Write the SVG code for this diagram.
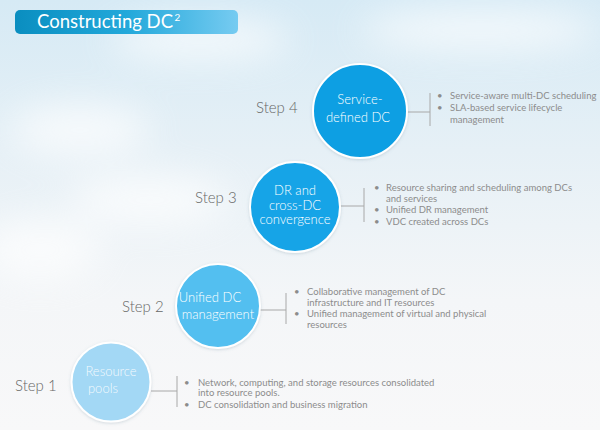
<svg xmlns="http://www.w3.org/2000/svg" width="600" height="430" viewBox="0 0 600 430">
<defs>
<linearGradient id="sky" x1="0" y1="0" x2="0" y2="1">
<stop offset="0" stop-color="#d6eaf5"/>
<stop offset="0.35" stop-color="#e6f0f6"/>
<stop offset="0.7" stop-color="#f4f6f8"/>
<stop offset="1" stop-color="#f8f8f9"/>
</linearGradient>
<linearGradient id="bar" x1="0" y1="0" x2="1" y2="0">
<stop offset="0" stop-color="#0a8ec0"/>
<stop offset="0.5" stop-color="#22a8da"/>
<stop offset="1" stop-color="#76cbf1"/>
</linearGradient>
<filter id="blur" x="-50%" y="-50%" width="200%" height="200%">
<feGaussianBlur stdDeviation="18"/>
</filter>
<filter id="shadow" x="-20%" y="-20%" width="140%" height="140%">
<feDropShadow dx="0" dy="1" stdDeviation="1.5" flood-color="#5a7a90" flood-opacity="0.25"/>
</filter>
<style>
.step{font-family:Lato,"Liberation Sans",sans-serif;font-weight:300;font-size:15px;fill:#666}
.ctext{font-family:Lato,"Liberation Sans",sans-serif;font-weight:300;font-size:13px;fill:#fff;text-anchor:middle}
.bul{font-family:Lato,"Liberation Sans",sans-serif;font-weight:400;font-size:9.5px;fill:#8c8c8c}
.node circle{stroke:#fff;stroke-width:2;filter:url(#shadow)}
.conn line{stroke:#a8a8a8;stroke-width:1}
</style>
</defs>
<rect width="600" height="430" fill="url(#sky)"/>
<g filter="url(#blur)" fill="#ffffff" opacity="0.7">
<ellipse cx="80" cy="130" rx="70" ry="25"/>
<ellipse cx="40" cy="250" rx="60" ry="30"/>
<ellipse cx="200" cy="40" rx="90" ry="20"/>
<ellipse cx="480" cy="30" rx="120" ry="20"/>
<ellipse cx="150" cy="200" rx="80" ry="25"/>
</g>
<g id="title">
<rect x="15" y="10" width="223" height="24" rx="5" fill="url(#bar)"/>
<text x="37" y="28" font-family="Lato,'Liberation Sans',sans-serif" font-size="18.5" fill="#fff">Constructing DC<tspan font-size="10" dx="1.5" dy="-7">2</tspan></text>
</g>
<g id="connectors" class="conn">
<line x1="407" y1="112" x2="430" y2="112"/>
<line x1="430" y1="93" x2="430" y2="126"/>
<line x1="340" y1="206" x2="364" y2="206"/>
<line x1="364" y1="188" x2="364" y2="222"/>
<line x1="260" y1="310" x2="286" y2="310"/>
<line x1="286" y1="293" x2="286" y2="324"/>
<line x1="151" y1="391" x2="177" y2="391"/>
<line x1="177" y1="376" x2="177" y2="407"/>
</g>
<g id="step4" class="node">
<text class="step" x="256" y="113">Step 4</text>
<circle cx="360" cy="111" r="47" fill="#0c9fe3"/>
<text class="ctext"><tspan x="360" y="104">Service-</tspan><tspan x="358" y="122">defined DC</tspan></text>
<text class="bul" x="437" y="99">•</text>
<text class="bul" x="450" y="99">Service-aware multi-DC scheduling</text>
<text class="bul" x="437" y="111">•</text>
<text class="bul" x="450" y="111">SLA-based service lifecycle</text>
<text class="bul" x="450" y="123">management</text>
</g>
<g id="step3" class="node">
<text class="step" x="195" y="203">Step 3</text>
<circle cx="295" cy="207" r="45" fill="#16a4e7"/>
<text class="ctext" font-size="12"><tspan x="295" y="195">DR and</tspan><tspan x="295" y="209.5">cross-DC</tspan><tspan x="295" y="224">convergence</tspan></text>
<text class="bul" x="374" y="191">•</text>
<text class="bul" x="386" y="191">Resource sharing and scheduling among DCs</text>
<text class="bul" x="386" y="202">and services</text>
<text class="bul" x="374" y="213">•</text>
<text class="bul" x="386" y="213">Unified DR management</text>
<text class="bul" x="374" y="225">•</text>
<text class="bul" x="386" y="225">VDC created across DCs</text>
</g>
<g id="step2" class="node">
<text class="step" x="122" y="312">Step 2</text>
<circle cx="218" cy="306" r="42" fill="#52bff0"/>
<text class="ctext"><tspan x="210" y="302">Unified DC</tspan><tspan x="218" y="319">management</tspan></text>
<text class="bul" x="294" y="295">•</text>
<text class="bul" x="307" y="295">Collaborative management of DC</text>
<text class="bul" x="307" y="306">infrastructure and IT resources</text>
<text class="bul" x="294" y="317">•</text>
<text class="bul" x="307" y="317">Unified management of virtual and physical</text>
<text class="bul" x="307" y="328">resources</text>
</g>
<g id="step1" class="node">
<text class="step" x="15" y="391">Step 1</text>
<circle cx="111" cy="382" r="39.5" fill="#a3d8f5"/>
<text class="ctext" fill-opacity="0.9"><tspan x="111" y="376">Resource</tspan><tspan x="103" y="393">pools</tspan></text>
<text class="bul" x="184" y="386">•</text>
<text class="bul" x="198" y="386">Network, computing, and storage resources consolidated</text>
<text class="bul" x="198" y="396">into resource pools.</text>
<text class="bul" x="184" y="408">•</text>
<text class="bul" x="198" y="408">DC consolidation and business migration</text>
</g>
</svg>
